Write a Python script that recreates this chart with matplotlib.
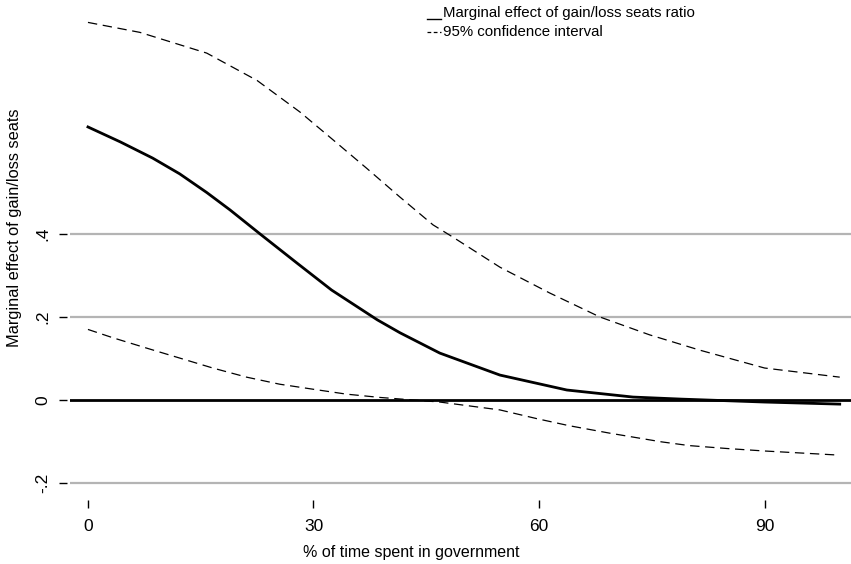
import matplotlib
matplotlib.use("Agg")
import matplotlib.pyplot as plt
from matplotlib.lines import Line2D

plt.rcParams['font.family'] = ['Liberation Sans', 'DejaVu Sans']

# Data
x_main = [0, 4.3, 8.6, 12.2, 15.8, 18.9, 22.9, 27.8, 32.4, 38.5, 41.5, 46.8, 54.8, 63.7, 72.5, 79, 90, 100]
y_main = [0.658, 0.622, 0.583, 0.545, 0.50, 0.458, 0.40, 0.33, 0.265, 0.193, 0.162, 0.113, 0.06, 0.024, 0.007, 0.002, -0.005, -0.01]

x_upper = [0, 6.9, 15.8, 22.5, 28.2, 32.6, 37.1, 41.5, 45.9, 48.5, 54.8, 61.4, 68.1, 74.7, 81.4, 90, 100]
y_upper = [0.91, 0.886, 0.836, 0.77, 0.694, 0.627, 0.558, 0.489, 0.422, 0.393, 0.32, 0.258, 0.2, 0.157, 0.12, 0.077, 0.055]

x_lower = [0, 3.3, 7.8, 12.2, 16.6, 21.1, 25.5, 29.9, 34.4, 38.9, 46.8, 54.8, 59.7, 64, 69.4, 76.3, 80, 85, 90, 95, 100]
y_lower = [0.17, 0.15, 0.125, 0.101, 0.077, 0.055, 0.038, 0.026, 0.014, 0.006, -0.005, -0.024, -0.045, -0.062, -0.08, -0.101, -0.11, -0.117, -0.123, -0.128, -0.133]

yticks = [-0.2, 0, 0.2, 0.4]
ytick_labels = ['-.2', '0', '.2', '.4']
xticks = [0, 30, 60, 90]
xtick_labels = ['0', '30', '60', '90']

legend_labels = ['Marginal effect of gain/loss seats ratio', '95% confidence interval']

W, H = 851, 564
fig = plt.figure(figsize=(8.51, 5.64), dpi=100)
ax = fig.add_axes([70/W, 74/H, 1 - 70/W, 490/H])
ax.set_xlim(-2.39, 101.5)
ax.set_ylim(-0.217, 0.964)

for g in yticks:
    if g == 0:
        ax.axhline(g, color='black', lw=2.0, zorder=2)
    else:
        ax.axhline(g, color='#b4b4b4', lw=1.6, zorder=1)

ax.plot(x_upper, y_upper, color='black', lw=0.9, dashes=(7.5, 4.5), zorder=3)
ax.plot(x_lower, y_lower, color='black', lw=0.9, dashes=(7.5, 4.5), zorder=3)
ax.plot(x_main, y_main, color='black', lw=2.0, zorder=4)

for s in ax.spines.values():
    s.set_visible(False)
ax.spines['bottom'].set_position(('outward', 7))
ax.spines['left'].set_position(('outward', 2))

ax.set_xticks(xticks)
ax.set_xticklabels(xtick_labels, fontsize=12.5)
ax.set_yticks(yticks)
ax.set_yticklabels(ytick_labels, fontsize=12.5, rotation=90, va='center')
ax.tick_params(axis='x', length=6, width=1, pad=8, color='black')
ax.tick_params(axis='y', length=6, width=1, pad=6, color='black')

# Axis titles placed where the reference has them
fig.text(411/W, 1 - 553/H, '% of time spent in government', fontsize=11.5,
         ha='center', va='center')
fig.text(15/W, 1 - 228/H, 'Marginal effect of gain/loss seats', fontsize=11.8,
         ha='center', va='center', rotation=90)

# Legend (drawn manually in figure coordinates)
fig.add_artist(Line2D([427/W, 441/W], [1 - 19/H, 1 - 19/H], color='black', lw=1.0))
fig.text(443/W, 1 - 13/H, legend_labels[0], fontsize=10.8, va='center', ha='left')
fig.add_artist(Line2D([427/W, 441/W], [1 - 32/H, 1 - 32/H], color='black', lw=0.9, dashes=(3, 2)))
fig.text(443/W, 1 - 32/H, legend_labels[1], fontsize=10.8, va='center', ha='left')

fig.savefig('out.png', dpi=100)
